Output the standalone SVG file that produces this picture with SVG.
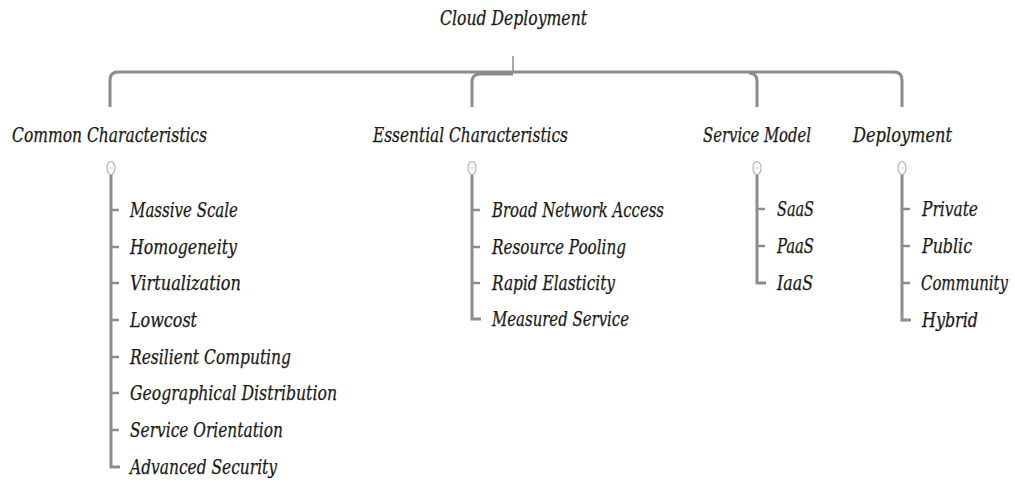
<svg xmlns="http://www.w3.org/2000/svg" width="1015" height="484" viewBox="0 0 1015 484">
<style>
  text { font-family: "DejaVu Serif", "Liberation Serif", serif; font-stretch: condensed; font-style: italic; font-size: 20px; fill: #1a1a1a; stroke: #1a1a1a; stroke-width: 0.25; }
  .branch { fill: none; stroke: #8c8c8c; stroke-width: 3; }
  .stem { fill: none; stroke: #8c8c8c; stroke-width: 1.5; }
  .list { fill: none; stroke: #8c8c8c; stroke-width: 3; }
  .tick { fill: none; stroke: #8c8c8c; stroke-width: 2.5; }
  .knob { fill: #ffffff; stroke: #b4b4b4; stroke-width: 1.2; }
  .knobline { stroke: #d0d0d0; stroke-width: 1; }
</style>
<rect width="1015" height="484" fill="#ffffff"/>

<g id="connectors">
  <path class="stem" d="M513 56 L513 72"/>
  <path class="branch" d="M110 107 L110 80 Q110 72 118 72 L894 72 Q902 72 902 80 L902 107"/>
  <path class="branch" d="M513 74 L480 74 Q472 74 472 82 L472 107"/>
  <path class="branch" d="M749 73 Q757 73 757 81 L757 107"/>
</g>

<g id="root">
  <text x="440" y="25" textLength="147" lengthAdjust="spacingAndGlyphs">Cloud Deployment</text>
</g>

<g id="common">
  <text x="12" y="142" textLength="195" lengthAdjust="spacingAndGlyphs">Common Characteristics</text>
  <ellipse class="knob" cx="111" cy="168" rx="4" ry="6.5"/>
  <line class="knobline" x1="109" y1="168" x2="113" y2="168"/>
  <path class="list" d="M111 175 L111 467 L120 467"/>
  <g class="tick">
    <line x1="111" y1="210" x2="119" y2="210"/>
    <line x1="111" y1="247" x2="119" y2="247"/>
    <line x1="111" y1="283" x2="119" y2="283"/>
    <line x1="111" y1="320" x2="119" y2="320"/>
    <line x1="111" y1="357" x2="119" y2="357"/>
    <line x1="111" y1="393" x2="119" y2="393"/>
    <line x1="111" y1="430" x2="119" y2="430"/>
  </g>
  <text x="130" y="217" textLength="108" lengthAdjust="spacingAndGlyphs">Massive Scale</text>
  <text x="130" y="254" textLength="107" lengthAdjust="spacingAndGlyphs">Homogeneity</text>
  <text x="130" y="290" textLength="111" lengthAdjust="spacingAndGlyphs">Virtualization</text>
  <text x="130" y="327" textLength="67" lengthAdjust="spacingAndGlyphs">Lowcost</text>
  <text x="130" y="364" textLength="161" lengthAdjust="spacingAndGlyphs">Resilient Computing</text>
  <text x="130" y="400" textLength="207" lengthAdjust="spacingAndGlyphs">Geographical Distribution</text>
  <text x="130" y="437" textLength="153" lengthAdjust="spacingAndGlyphs">Service Orientation</text>
  <text x="130" y="474" textLength="147" lengthAdjust="spacingAndGlyphs">Advanced Security</text>
</g>

<g id="essential">
  <text x="373" y="142" textLength="195" lengthAdjust="spacingAndGlyphs">Essential Characteristics</text>
  <ellipse class="knob" cx="472" cy="168" rx="4" ry="6.5"/>
  <line class="knobline" x1="470" y1="168" x2="474" y2="168"/>
  <path class="list" d="M472 175 L472 319 L481 319"/>
  <g class="tick">
    <line x1="472" y1="210" x2="480" y2="210"/>
    <line x1="472" y1="247" x2="480" y2="247"/>
    <line x1="472" y1="283" x2="480" y2="283"/>
  </g>
  <text x="492" y="217" textLength="172" lengthAdjust="spacingAndGlyphs">Broad Network Access</text>
  <text x="492" y="254" textLength="134" lengthAdjust="spacingAndGlyphs">Resource Pooling</text>
  <text x="492" y="290" textLength="123" lengthAdjust="spacingAndGlyphs">Rapid Elasticity</text>
  <text x="492" y="326" textLength="137" lengthAdjust="spacingAndGlyphs">Measured Service</text>
</g>

<g id="service">
  <text x="703" y="142" textLength="108" lengthAdjust="spacingAndGlyphs">Service Model</text>
  <ellipse class="knob" cx="757" cy="168" rx="4" ry="6.5"/>
  <line class="knobline" x1="755" y1="168" x2="759" y2="168"/>
  <path class="list" d="M757 175 L757 283 L766 283"/>
  <g class="tick">
    <line x1="757" y1="209" x2="765" y2="209"/>
    <line x1="757" y1="246" x2="765" y2="246"/>
  </g>
  <text x="777" y="216" textLength="37" lengthAdjust="spacingAndGlyphs">SaaS</text>
  <text x="777" y="253" textLength="37" lengthAdjust="spacingAndGlyphs">PaaS</text>
  <text x="777" y="290" textLength="36" lengthAdjust="spacingAndGlyphs">IaaS</text>
</g>

<g id="deployment">
  <text x="853" y="142" textLength="99" lengthAdjust="spacingAndGlyphs">Deployment</text>
  <ellipse class="knob" cx="902" cy="168" rx="4" ry="6.5"/>
  <line class="knobline" x1="900" y1="168" x2="904" y2="168"/>
  <path class="list" d="M902 175 L902 320 L911 320"/>
  <g class="tick">
    <line x1="902" y1="209" x2="910" y2="209"/>
    <line x1="902" y1="246" x2="910" y2="246"/>
    <line x1="902" y1="283" x2="910" y2="283"/>
  </g>
  <text x="922" y="216" textLength="56" lengthAdjust="spacingAndGlyphs">Private</text>
  <text x="922" y="253" textLength="50" lengthAdjust="spacingAndGlyphs">Public</text>
  <text x="921" y="290" textLength="87" lengthAdjust="spacingAndGlyphs">Community</text>
  <text x="922" y="327" textLength="56" lengthAdjust="spacingAndGlyphs">Hybrid</text>
</g>
</svg>
